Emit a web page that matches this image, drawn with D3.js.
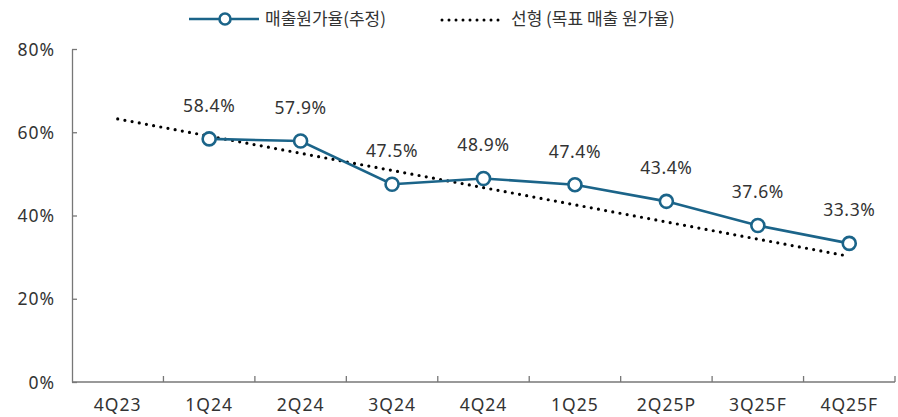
<!DOCTYPE html>
<html>
<head>
<meta charset="utf-8">
<script src="https://cdn.jsdelivr.net/npm/d3@7"></script>
<style>
  body { margin: 0; background: #fff; }
  svg text { font-family: "Noto Sans", "Noto Sans CJK KR", sans-serif; fill: #333; }
</style>
</head>
<body>
<div id="chart"></div>
<script>
const categories = ['4Q23', '1Q24', '2Q24', '3Q24', '4Q24', '1Q25', '2Q25P', '3Q25F', '4Q25F'];
// 매출원가율(추정), 4Q23 없음
const costRatio = [null, 58.4, 57.9, 47.5, 48.9, 47.4, 43.4, 37.6, 33.3];
// 선형 추세선 (목표 매출 원가율) 시작/끝 값
const trendCats = ['4Q23', '4Q25F'];
const trendVals = [63.2, 30.2];
const yTicks = [0, 20, 40, 60, 80];

const width = 898, height = 417;
const margin = { top: 49, right: 3, bottom: 35, left: 72 };
const lineColor = '#1b6489';

const svg = d3.select('#chart').append('svg')
  .attr('width', width)
  .attr('height', height);

const x = d3.scaleBand()
  .domain(categories)
  .range([margin.left, width - margin.right]);

const y = d3.scaleLinear()
  .domain([0, 80])
  .range([height - margin.bottom, margin.top]);

// y축
const yAxis = svg.append('g')
  .attr('transform', `translate(${margin.left},0)`)
  .call(d3.axisLeft(y).tickValues(yTicks).tickFormat(d => d + '%').tickSizeInner(-5).tickSizeOuter(0).tickPadding(17));
yAxis.select('.domain').attr('stroke', '#777').attr('stroke-width', 1.3);
yAxis.selectAll('.tick line').attr('stroke', '#777').attr('stroke-width', 1.3);
yAxis.selectAll('.tick text').style('font-size', '17.5px').style('letter-spacing', '1px').attr('dy', '0.35em');

// x축 (밴드 경계에 눈금)
const xAxisG = svg.append('g')
  .attr('transform', `translate(0,${y(0)})`);
xAxisG.append('line')
  .attr('x1', margin.left).attr('x2', width - margin.right)
  .attr('stroke', '#777').attr('stroke-width', 1.3);
const bounds = categories.map(c => x(c)).concat([x(categories[categories.length - 1]) + x.bandwidth()]);
xAxisG.selectAll('.xtick').data(bounds.slice(1)).enter().append('line')
  .attr('x1', d => d).attr('x2', d => d)
  .attr('y1', 0).attr('y2', -6)
  .attr('stroke', '#777').attr('stroke-width', 1.3);
xAxisG.selectAll('.xlabel').data(categories).enter().append('text')
  .attr('x', d => x(d) + x.bandwidth() / 2)
  .attr('y', 29)
  .attr('text-anchor', 'middle')
  .style('font-size', '17.5px')
  .style('letter-spacing', '1px')
  .text(d => d);

// 추세선
const trendData = trendCats.map((c, i) => ({ cat: c, v: trendVals[i] }));
svg.append('path')
  .datum(trendData)
  .attr('fill', 'none')
  .attr('stroke', '#000')
  .attr('stroke-width', 3.2)
  .attr('stroke-linecap', 'round')
  .attr('stroke-dasharray', '0,7.3')
  .attr('d', d3.line().x(d => x(d.cat) + x.bandwidth() / 2).y(d => y(d.v)));

// 매출원가율 선
const series = categories.map((c, i) => ({ cat: c, v: costRatio[i] })).filter(d => d.v != null);
svg.append('path')
  .datum(series)
  .attr('fill', 'none')
  .attr('stroke', lineColor)
  .attr('stroke-width', 2.6)
  .attr('d', d3.line().x(d => x(d.cat) + x.bandwidth() / 2).y(d => y(d.v)));

svg.selectAll('.pt').data(series).enter().append('circle')
  .attr('cx', d => x(d.cat) + x.bandwidth() / 2)
  .attr('cy', d => y(d.v))
  .attr('r', 6.5)
  .attr('fill', '#fff')
  .attr('stroke', lineColor)
  .attr('stroke-width', 2.6);

svg.selectAll('.lbl').data(series).enter().append('text')
  .attr('x', d => x(d.cat) + x.bandwidth() / 2)
  .attr('y', d => y(d.v) - 27)
  .attr('text-anchor', 'middle')
  .style('font-size', '17.5px')
  .style('letter-spacing', '0.6px')
  .text(d => d.v.toFixed(1) + '%');

// 범례
const legend = svg.append('g');
legend.append('line')
  .attr('x1', 189).attr('x2', 259).attr('y1', 19).attr('y2', 19)
  .attr('stroke', lineColor).attr('stroke-width', 2.6);
legend.append('circle')
  .attr('cx', 225).attr('cy', 19).attr('r', 5.5)
  .attr('fill', '#fff').attr('stroke', lineColor).attr('stroke-width', 2.6);
legend.append('text')
  .attr('x', 265).attr('y', 25)
  .style('font-size', '17px')
  .style('font-family', '"Noto Sans CJK KR", sans-serif')
  .text('매출원가율(추정)');
legend.append('line')
  .attr('x1', 442).attr('x2', 505).attr('y1', 20).attr('y2', 20)
  .attr('stroke', '#000').attr('stroke-width', 3)
  .attr('stroke-linecap', 'round')
  .attr('stroke-dasharray', '0,7');
legend.append('text')
  .attr('x', 511).attr('y', 25)
  .style('font-size', '17px')
  .style('font-family', '"Noto Sans CJK KR", sans-serif')
  .text('선형 (목표 매출 원가율)');
</script>
</body>
</html>
